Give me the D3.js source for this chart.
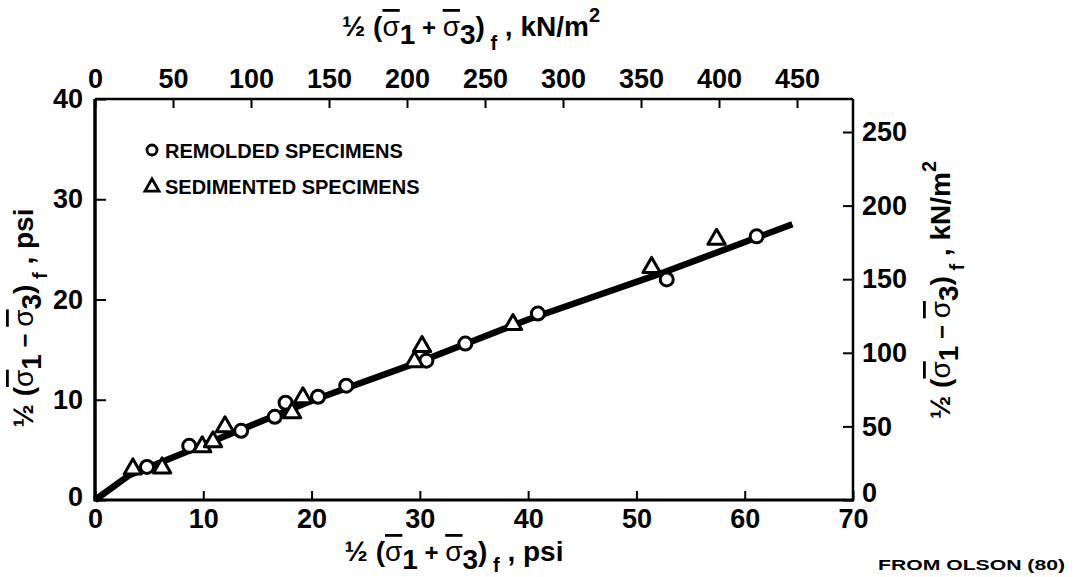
<!DOCTYPE html>
<html>
<head>
<meta charset="utf-8">
<style>
  body { margin: 0; background: #fff; }
  svg { font-family: "Liberation Sans", Arial, sans-serif; font-weight: bold; }
  .tick line { stroke: #000; stroke-width: 2; }
  .tick text { font-size: 27px; fill: #000; }
  .sig { font-weight: normal; text-decoration: overline; }
</style>
<script src="https://cdn.jsdelivr.net/npm/d3@7"></script>
</head>
<body>
<script>
// values, in psi
var remolded = [[4.8,3.3],[8.7,5.4],[13.5,6.9],[16.6,8.3],[17.6,9.7],[20.6,10.3],[23.2,11.4],
                [30.6,13.9],[34.2,15.6],[40.9,18.6],[52.8,22.0],[61.1,26.3]];
var sedimented = [[3.5,3.1],[6.2,3.2],[9.9,5.3],[10.9,5.8],[12.0,7.3],[18.2,8.7],[19.2,10.2],
                  [29.5,13.8],[30.2,15.3],[38.6,17.5],[51.4,23.2],[57.4,26.0]];
var fitLine = [[0,0],[3.2,2.5],[20,9.9],[30,13.8],[40,18.0],[52,22.5],[64.4,27.5]];

var psiTicksX = [0,10,20,30,40,50,60,70];
var psiTicksY = [0,10,20,30,40];
var kNTicksTop = [0,50,100,150,200,250,300,350,400,450];
var kNTicksRight = [0,50,100,150,200,250];
var legendItems = ["REMOLDED SPECIMENS", "SEDIMENTED SPECIMENS"];

var W = 1075, H = 577;
var svg = d3.select("body").append("svg").attr("width", W).attr("height", H);

var x = d3.scaleLinear().domain([0,70]).range([95,853]);
var y = d3.scaleLinear().domain([0,40]).range([500,99]);
var xTop = d3.scaleLinear().domain([0,450]).range([95,797]);
var yRight = d3.scaleLinear().domain([0,250]).range([500,132]);

// axes
var gB = svg.append("g").attr("transform","translate(0,500)")
  .call(d3.axisBottom(x).tickValues(psiTicksX).tickSizeInner(-9).tickSizeOuter(0).tickPadding(9));
var gL = svg.append("g").attr("transform","translate(95,0)")
  .call(d3.axisLeft(y).tickValues(psiTicksY).tickSizeInner(-11).tickSizeOuter(0).tickPadding(12));
var gT = svg.append("g").attr("transform","translate(0,99)")
  .call(d3.axisTop(xTop).tickValues(kNTicksTop).tickSizeInner(-9).tickSizeOuter(0).tickPadding(11));
var gR = svg.append("g").attr("transform","translate(853,0)")
  .call(d3.axisRight(yRight).tickValues(kNTicksRight).tickSizeInner(-10).tickSizeOuter(0).tickPadding(9));
svg.selectAll(".domain").remove();
[gB, gL, gT, gR].forEach(function(g) {
  g.selectAll(".tick text").attr("font-family", null).attr("font-size", null);
});
gR.selectAll(".tick text").filter(function(d){ return d === 0; }).attr("dy", "0.05em");
gL.selectAll(".tick text").filter(function(d){ return d === 0; }).attr("dy", "0.2em");

// frame
svg.append("line").attr("x1",x(0)).attr("x2",x(70)).attr("y1",y(0)).attr("y2",y(0))
  .attr("stroke","#000").attr("stroke-width",3);
svg.append("line").attr("x1",x(0)).attr("x2",x(0)).attr("y1",y(0)+1.5).attr("y2",y(40))
  .attr("stroke","#000").attr("stroke-width",3.5);
svg.append("line").attr("x1",x(0)).attr("x2",x(70)).attr("y1",y(40)).attr("y2",y(40))
  .attr("stroke","#000").attr("stroke-width",2.5);
svg.append("line").attr("x1",x(70)).attr("x2",x(70)).attr("y1",y(0)+1.5).attr("y2",y(40))
  .attr("stroke","#000").attr("stroke-width",2.5);

// fitted line
svg.append("path").datum(fitLine)
  .attr("d", d3.line().x(function(d){ return x(d[0]); }).y(function(d){ return y(d[1]); }))
  .attr("fill","none").attr("stroke","#000").attr("stroke-width",6.5).attr("stroke-linejoin","round");

// points
svg.selectAll("circle.rem").data(remolded).enter().append("circle")
  .attr("class","rem")
  .attr("cx", function(d){ return x(d[0]); })
  .attr("cy", function(d){ return y(d[1]); })
  .attr("r", 6.5)
  .attr("fill","#fff").attr("stroke","#000").attr("stroke-width",3);

var tri = d3.symbol().type(d3.symbolTriangle).size(130);
svg.selectAll("path.sed").data(sedimented).enter().append("path")
  .attr("class","sed")
  .attr("d", tri)
  .attr("transform", function(d){ return "translate(" + x(d[0]) + "," + y(d[1]) + ")"; })
  .attr("fill","#fff").attr("stroke","#000").attr("stroke-width",3).attr("stroke-linejoin","round");

// legend
var leg = svg.append("g");
leg.append("circle").attr("cx",152).attr("cy",150).attr("r",5)
  .attr("fill","#fff").attr("stroke","#000").attr("stroke-width",2.8);
leg.append("path").attr("d", d3.symbol().type(d3.symbolTriangle).size(85))
  .attr("transform","translate(152,187)")
  .attr("fill","#fff").attr("stroke","#000").attr("stroke-width",2.8);
leg.selectAll("text").data(legendItems).enter().append("text")
  .attr("x",165).attr("y", function(d,i){ return 158 + i*36; })
  .attr("font-size",20).text(function(d){ return d; });

// axis titles built from tspans
function sigmaTitle(g, sign, unit, sup, fDrop) {
  var t = g.append("text").attr("text-anchor","middle").attr("font-size",28);
  t.append("tspan").text("½ (");
  t.append("tspan").attr("class","sig").text("σ");
  t.append("tspan").attr("dy",8).text("1");
  t.append("tspan").attr("dy",-8).attr("font-size",24).text(" " + sign + " ");
  t.append("tspan").attr("class","sig").text("σ");
  t.append("tspan").attr("dy",8).text("3");
  t.append("tspan").attr("dy",-8).text(")");
  t.append("tspan").attr("dy",fDrop).attr("font-size",20).text(" f");
  t.append("tspan").attr("dy",-fDrop).text(" , " + unit);
  if (sup) t.append("tspan").attr("dy",-14).attr("font-size",20).text(sup);
  return t;
}
sigmaTitle(svg.append("g").attr("transform","translate(471,36)"), "+", "kN/m", "2", 14);
sigmaTitle(svg.append("g").attr("transform","translate(454,561)"), "+", "psi", null, 11);
sigmaTitle(svg.append("g").attr("transform","translate(33,318) rotate(-90)"), "\u2212", "psi", null, 14);
sigmaTitle(svg.append("g").attr("transform","translate(950,290) rotate(-90)"), "\u2212", "kN/m", "2", 14);

svg.append("text").attr("x",878).attr("y",570).attr("font-size",15)
  .attr("textLength",187).attr("lengthAdjust","spacingAndGlyphs")
  .text("FROM OLSON (80)");
</script>
</body>
</html>
